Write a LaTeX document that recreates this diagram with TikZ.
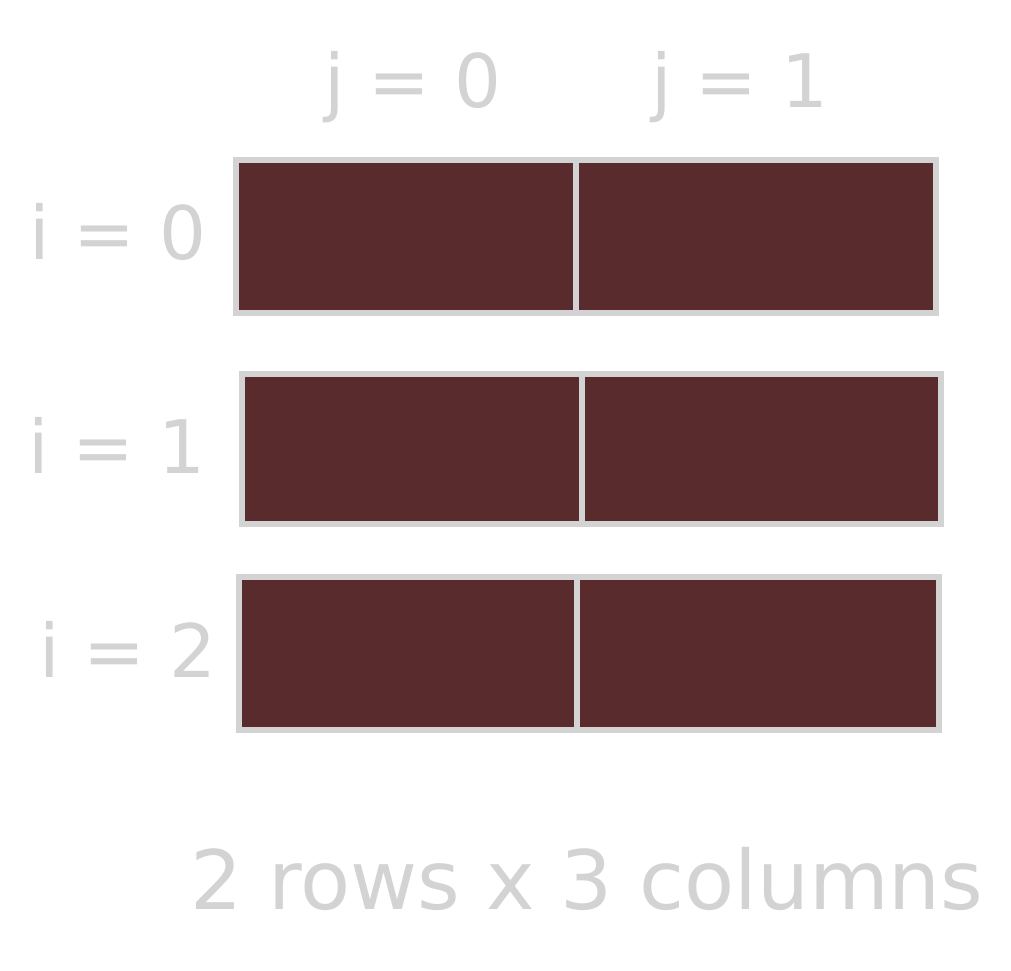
\documentclass[tikz,border=0pt]{standalone}
\usepackage{fontspec}
\setmainfont{DejaVu Sans}
\usepackage{tikz}
\usetikzlibrary{positioning}
\definecolor{cellfill}{HTML}{5A2B2D}
\definecolor{edgegray}{HTML}{D3D3D3}

\begin{document}
\begin{tikzpicture}[x=0.01cm, y=-0.01cm,
  cell/.style={rectangle, draw=edgegray, fill=cellfill, line width=1.5pt, inner sep=0pt},
  idx/.style={anchor=base, text=edgegray, font=\fontsize{21}{25}\selectfont, inner sep=0pt},
  note/.style={anchor=base, text=edgegray, font=\fontsize{23.3}{27}\selectfont, inner sep=0pt}]
\useasboundingbox (0, 0) rectangle (1011, 971);
% row i = 0
\node[cell, minimum width=3.4cm, minimum height=1.53cm] (c00) at (406, 236.5) {};
\node[cell, minimum width=3.6cm, minimum height=1.53cm] (c01) at (756, 236.5) {};
% row i = 1
\node[cell, minimum width=3.4cm, minimum height=1.5cm] (c10) at (412, 449) {};
\node[cell, minimum width=3.59cm, minimum height=1.5cm] (c11) at (761.5, 449) {};
% row i = 2
\node[cell, minimum width=3.38cm, minimum height=1.53cm] (c20) at (408, 653.5) {};
\node[cell, minimum width=3.62cm, minimum height=1.53cm] (c21) at (758, 653.5) {};
% index labels
\node[idx] (j0) at (413, 108) {j = 0};
\node[idx] (j1) at (740, 108) {j = 1};
\node[idx] (i0) at (118, 260) {i = 0};
\node[idx] (i1) at (117, 474) {i = 1};
\node[idx] (i2) at (128, 678) {i = 2};
\node[note] (caption) at (587, 910) {2 rows x 3 columns};
\end{tikzpicture}
\end{document}
